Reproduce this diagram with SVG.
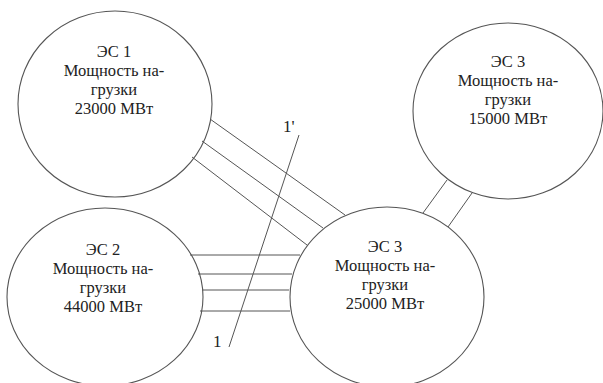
<svg xmlns="http://www.w3.org/2000/svg" width="603" height="383" viewBox="0 0 603 383">
<style>
.n ellipse{fill:none;stroke:#555;stroke-width:1.1}
.n text{font-family:"Liberation Serif","Times New Roman",serif;font-size:16.5px;fill:#222;text-anchor:middle}
#connectors line{stroke:#555;stroke-width:1}
.lbl{font-family:"Liberation Serif","Times New Roman",serif;font-size:17px;fill:#222}
</style>
<rect width="603" height="383" fill="#fff"/>
<g id="connectors">
<line x1="210" y1="119" x2="345" y2="215"/>
<line x1="202" y1="141" x2="323" y2="228"/>
<line x1="192" y1="157" x2="307" y2="245"/>
<line x1="190" y1="255" x2="300" y2="255"/>
<line x1="198" y1="274" x2="292" y2="274"/>
<line x1="202" y1="290" x2="289" y2="290"/>
<line x1="200" y1="311" x2="290" y2="311"/>
<line x1="447" y1="180" x2="423" y2="213"/>
<line x1="472" y1="193" x2="448" y2="227"/>
<line x1="299" y1="135" x2="229" y2="347"/>
</g>
<g id="es1" class="n">
<ellipse cx="115" cy="104" rx="97" ry="93"/>
<text x="114" y="57">ЭС 1</text>
<text x="114" y="76">Мощность на-</text>
<text x="114" y="95">грузки</text>
<text x="114" y="114">23000 МВт</text>
</g>
<g id="es3top" class="n">
<ellipse cx="508" cy="111" rx="95" ry="88"/>
<text x="508" y="67">ЭС 3</text>
<text x="508" y="86">Мощность на-</text>
<text x="508" y="105">грузки</text>
<text x="508" y="124">15000 МВт</text>
</g>
<g id="es2" class="n">
<ellipse cx="105" cy="297" rx="98" ry="89"/>
<text x="103" y="255">ЭС 2</text>
<text x="103" y="274">Мощность на-</text>
<text x="103" y="293">грузки</text>
<text x="103" y="312">44000 МВт</text>
</g>
<g id="es3" class="n">
<ellipse cx="387" cy="297" rx="97" ry="90"/>
<text x="385" y="252">ЭС 3</text>
<text x="385" y="271">Мощность на-</text>
<text x="385" y="290">грузки</text>
<text x="385" y="309">25000 МВт</text>
</g>
<text class="lbl" x="283" y="132">1'</text>
<text class="lbl" x="213" y="347">1</text>
</svg>
